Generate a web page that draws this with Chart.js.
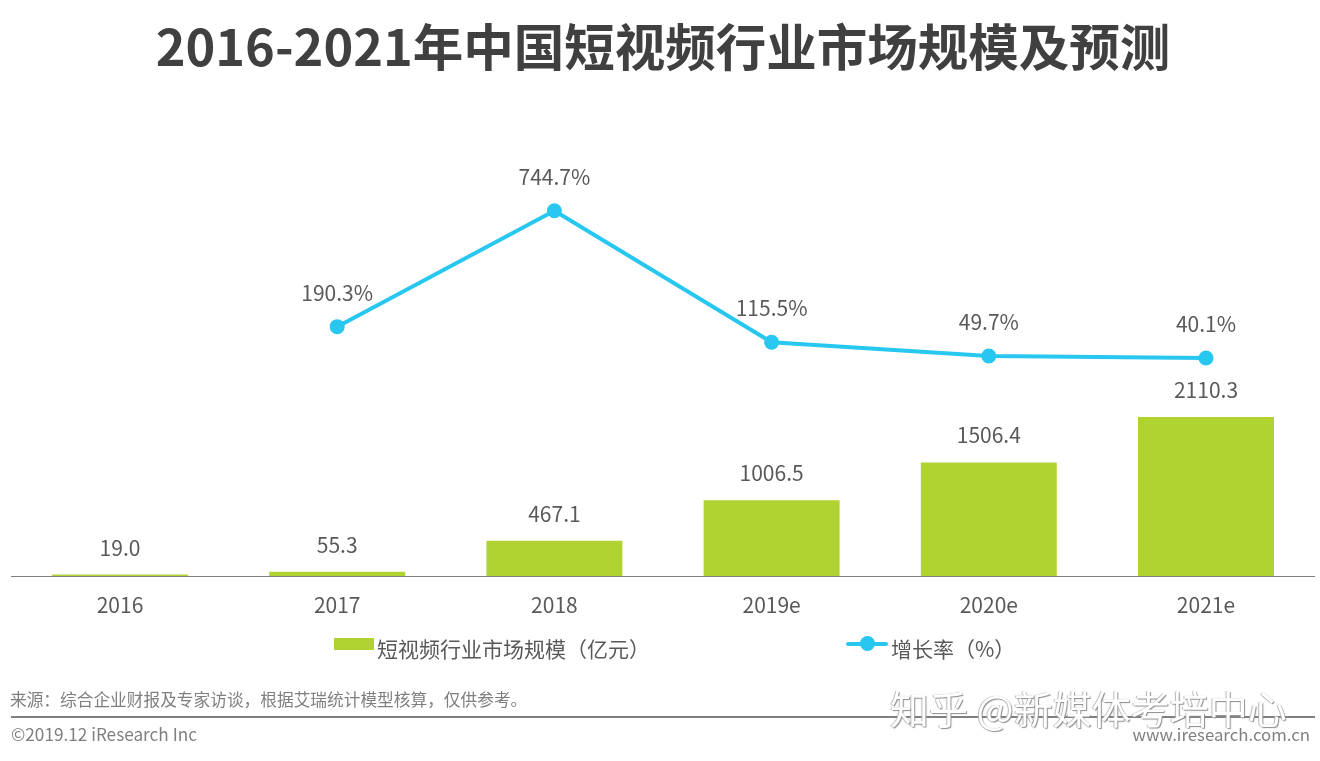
<!DOCTYPE html>
<html lang="zh">
<head>
<meta charset="utf-8">
<title>2016-2021年中国短视频行业市场规模及预测</title>
<script src="https://cdn.jsdelivr.net/npm/chart.js@4"></script>
<style>
html, body { margin: 0; padding: 0; background: #fff; }
body { width: 1320px; height: 761px; position: relative; overflow: hidden; font-family: "Noto Sans CJK SC", sans-serif; color: #595959; }
canvas { position: absolute; left: 0; top: 0; }
.t { position: absolute; white-space: nowrap; line-height: 1; }
#title { left: 0; width: 1326px; top: 19px; text-align: center; font-size: 50.5px; font-weight: 700; color: #404040; }
.swatch { position: absolute; left: 334px; top: 638px; width: 40px; height: 12px; background: #b0d332; }
.lg-line { position: absolute; left: 846px; top: 642px; width: 42px; height: 4px; background: #27c7f0; border-radius: 2px; }
.lg-dot { position: absolute; left: 860px; top: 636px; width: 15px; height: 15px; background: #27c7f0; border-radius: 50%; }
#rule { position: absolute; left: 11px; top: 716px; width: 1304px; height: 2px; background: #7f7f7f; }
#mark { left: 890px; top: 688px; font-size: 39px; color: #fff; text-shadow: 1px 1px 1px #8c8c8c, -1px 0 1px #b5b5b5; }
</style>
</head>
<body>
<canvas id="chart" width="1320" height="761"></canvas>
<div class="t" id="title">2016-2021年中国短视频行业市场规模及预测</div>
<div class="swatch"></div>
<div class="t" style="left:377px;top:638px;font-size:21px">短视频行业市场规模（亿元）</div>
<div class="lg-line"></div>
<div class="lg-dot"></div>
<div class="t" style="left:891px;top:638px;font-size:21px">增长率（%）</div>
<div class="t" style="left:10px;top:691px;font-size:16.7px;color:#7f7f7f">来源：综合企业财报及专家访谈，根据艾瑞统计模型核算，仅供参考。</div>
<div id="rule"></div>
<div class="t" id="mark">知乎 @新媒体考培中心</div>
<div class="t" style="left:11px;top:725px;font-size:17.2px;color:#7f7f7f">©2019.12 iResearch Inc</div>
<div class="t" style="right:10px;top:726px;font-size:16.8px;color:#7f7f7f">www.iresearch.com.cn</div>
<script>
var years = ["2016", "2017", "2018", "2019e", "2020e", "2021e"];
var marketSize = [19.0, 55.3, 467.1, 1006.5, 1506.4, 2110.3];
var growthRate = [null, 190.3, 744.7, 115.5, 49.7, 40.1];

var labelFont = '21px "Noto Sans CJK SC", sans-serif';

// value labels above the bars and points
var valueLabels = {
    id: "valueLabels",
    afterDatasetsDraw: function (chart) {
        var ctx = chart.ctx;
        var x = chart.scales.x;
        ctx.save();
        ctx.font = labelFont;
        ctx.fillStyle = "#595959";
        ctx.textAlign = "center";
        ctx.textBaseline = "middle";
        years.forEach(function (y, i) {
            ctx.fillText(marketSize[i].toFixed(1), x.getPixelForValue(i), chart.scales.yBar.getPixelForValue(marketSize[i]) - 27);
            if (growthRate[i] != null) {
                ctx.fillText(growthRate[i].toFixed(1) + "%", x.getPixelForValue(i), chart.scales.yLine.getPixelForValue(growthRate[i]) - 34);
            }
        });
        ctx.restore();
    },
};

new Chart(document.getElementById("chart"), {
    data: {
        labels: years,
        datasets: [
            {
                type: "line",
                label: "增长率（%）",
                data: growthRate,
                yAxisID: "yLine",
                borderColor: "#27c7f0",
                backgroundColor: "#27c7f0",
                borderWidth: 4,
                pointRadius: 7.5,
                pointBorderWidth: 0,
                pointHoverRadius: 7.5,
                tension: 0,
                order: 1,
            },
            {
                type: "bar",
                label: "短视频行业市场规模（亿元）",
                data: marketSize,
                yAxisID: "yBar",
                backgroundColor: "#b0d332",
                barPercentage: 1,
                categoryPercentage: 0.626,
                order: 2,
            },
        ],
    },
    options: {
        responsive: false,
        animation: false,
        devicePixelRatio: 1,
        layout: { autoPadding: false, padding: { left: 11.4, right: 5.4, top: 100, bottom: 0 } },
        plugins: { legend: { display: false }, tooltip: { enabled: false } },
        scales: {
            x: {
                grid: { display: false, drawTicks: false },
                border: { color: "#7f7f7f", width: 1 },
                ticks: { color: "#595959", font: { size: 21, family: '"Noto Sans CJK SC", sans-serif' }, padding: 16, maxRotation: 0 },
                afterFit: function (s) { s.height = 185; },
            },
            yBar: { display: false, min: 0, max: 6317 },
            yLine: { display: false, min: -1003, max: 1275 },
        },
    },
    plugins: [valueLabels],
});
</script>
</body>
</html>
